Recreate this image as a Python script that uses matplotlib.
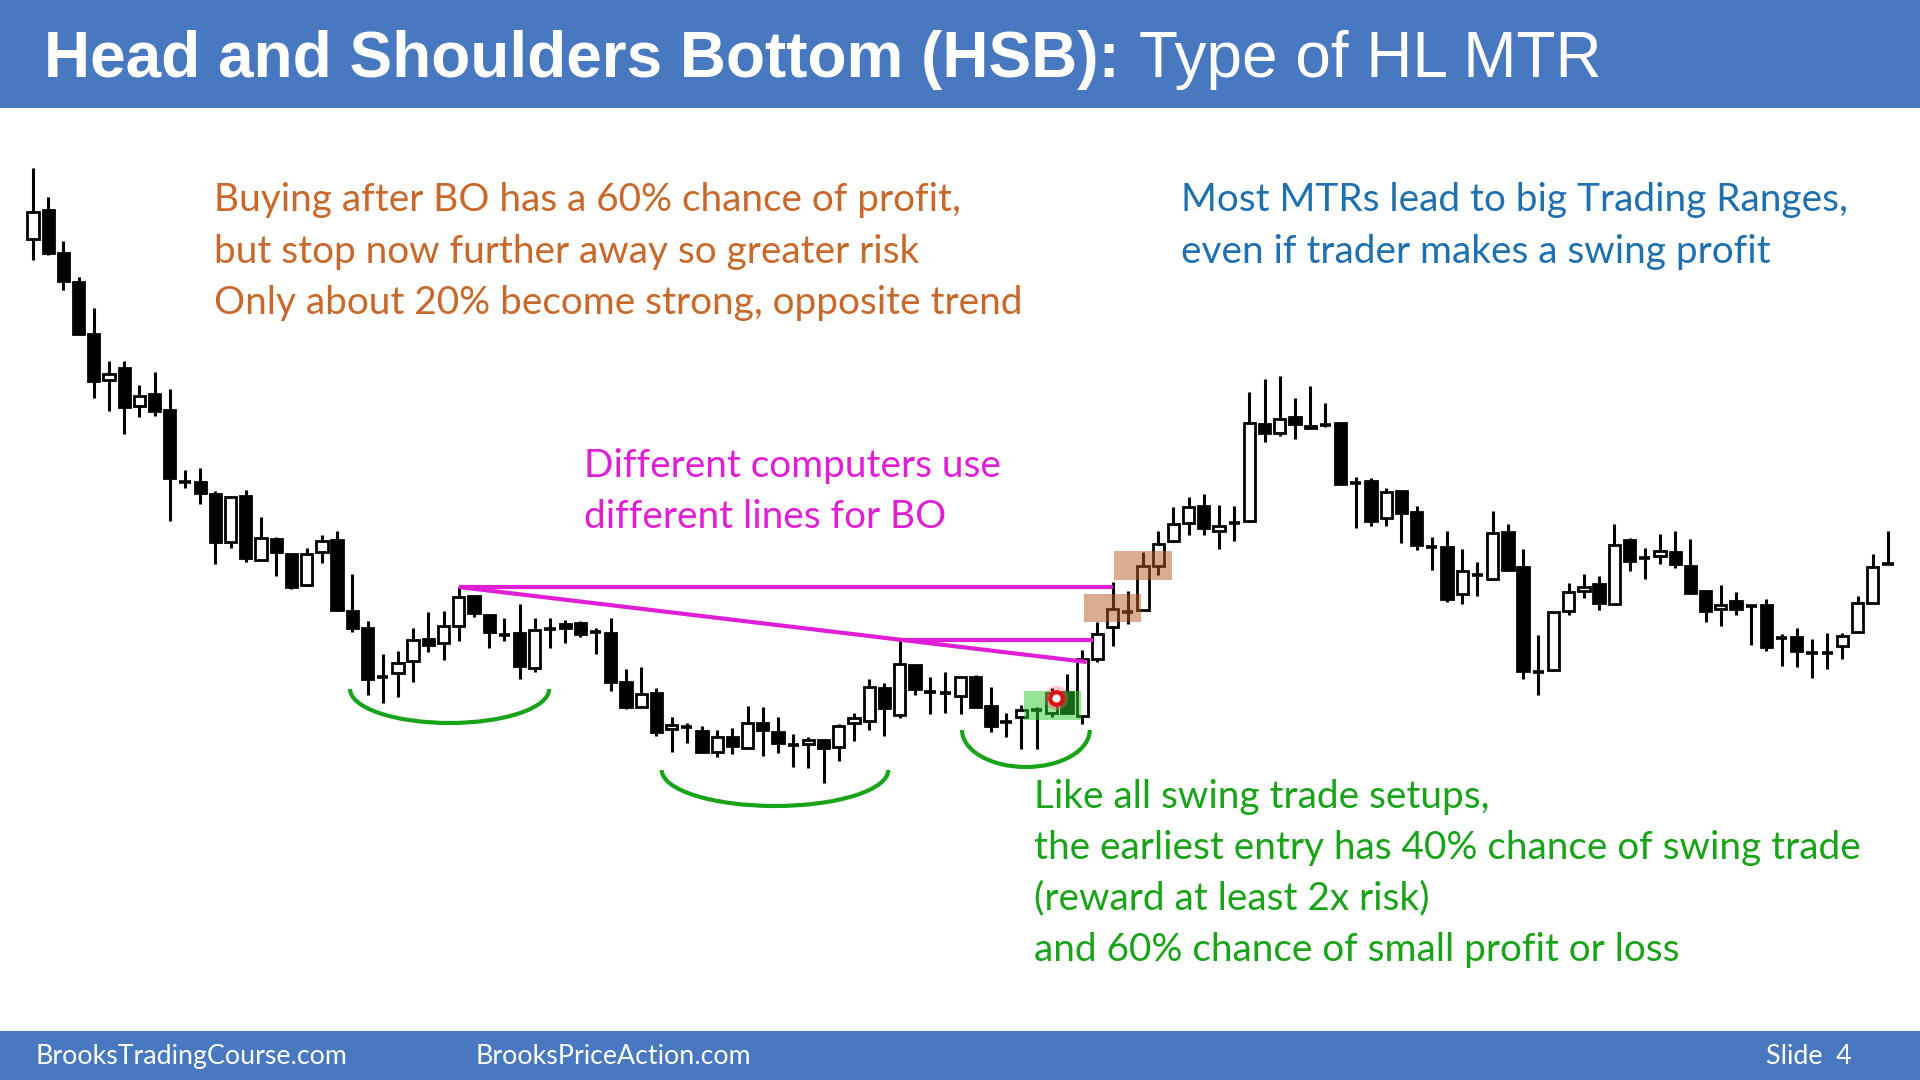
import matplotlib
matplotlib.use("Agg")
import matplotlib.pyplot as plt
from matplotlib.patches import Rectangle, Arc
import numpy as np

# ---------------- data (prices) ----------------
opens = [761, 790, 747, 718, 666, 620, 632, 594, 606, 590,
         518, 518, 506, 458, 504, 440, 461, 446, 415, 448,
         460, 389, 372, 323, 327, 339, 361, 357, 374, 404,
         385, 365, 367, 332, 371, 376, 377, 368, 367, 318,
         293, 307, 271, 273, 269, 248, 263, 252, 277, 268,
         255, 256, 260, 253, 277, 279, 312, 285, 335, 308,
         307, 304, 323, 294, 278, 283, 290, 287, 308, 284,
         341, 373, 388, 390, 434, 459, 477, 494, 469, 477,
         479, 576, 567, 583, 574, 575, 577, 517, 519, 482,
         509, 488, 453, 453, 406, 425, 421, 468, 433, 328,
         330, 389, 409, 416, 396, 460, 442, 444, 448, 434,
         409, 391, 399, 394, 395, 362, 363, 347, 347, 354,
         368, 397, 436]
highs = [832, 803, 759, 723, 692, 639, 639, 615, 628, 611,
         530, 532, 509, 504, 510, 483, 463, 447, 452, 465,
         469, 426, 379, 346, 349, 372, 388, 389, 413, 404,
         386, 382, 396, 382, 382, 380, 379, 372, 382, 331,
         333, 312, 283, 277, 274, 270, 272, 294, 293, 283,
         266, 263, 261, 276, 287, 321, 317, 360, 335, 323,
         328, 324, 325, 313, 287, 295, 293, 312, 326, 350,
         378, 418, 409, 448, 469, 493, 503, 506, 495, 494,
         608, 621, 624, 602, 614, 597, 577, 523, 522, 512,
         509, 494, 463, 469, 451, 438, 489, 476, 451, 365,
         388, 417, 426, 424, 476, 462, 452, 466, 469, 461,
         410, 415, 408, 394, 401, 366, 372, 361, 367, 367,
         404, 446, 469]
lows = [740, 745, 710, 665, 602, 589, 566, 583, 584, 479,
        512, 496, 436, 452, 438, 440, 424, 411, 414, 437,
        389, 368, 305, 297, 303, 318, 348, 340, 359, 383,
        352, 359, 321, 328, 352, 357, 363, 346, 309, 291,
        293, 264, 248, 257, 247, 243, 246, 252, 244, 247,
        233, 232, 217, 239, 259, 270, 264, 282, 305, 286,
        287, 286, 293, 268, 263, 251, 251, 283, 287, 276,
        338, 354, 376, 390, 425, 458, 465, 465, 451, 459,
        478, 558, 564, 561, 572, 573, 516, 472, 474, 474,
        457, 450, 430, 398, 396, 404, 420, 430, 321, 305,
        329, 385, 402, 390, 395, 429, 421, 436, 432, 407,
        378, 374, 385, 355, 349, 334, 333, 322, 331, 341,
        368, 396, 436]
closes = [788, 747, 719, 666, 619, 626, 593, 604, 589, 522,
          518, 507, 458, 503, 442, 462, 448, 413, 446, 459,
          390, 372, 321, 323, 337, 360, 355, 374, 403, 387,
          368, 365, 334, 370, 371, 372, 366, 368, 318, 293,
          306, 268, 275, 273, 248, 263, 254, 277, 270, 257,
          255, 260, 252, 274, 282, 313, 292, 336, 311, 308,
          307, 323, 293, 274, 278, 290, 290, 307, 287, 341,
          366, 391, 388, 434, 456, 476, 493, 472, 474, 477,
          577, 567, 581, 576, 572, 575, 516, 517, 479, 508,
          487, 455, 453, 401, 429, 425, 467, 430, 329, 328,
          388, 408, 413, 397, 455, 439, 442, 449, 436, 407,
          389, 395, 391, 394, 353, 362, 349, 347, 347, 364,
          397, 433, 436]

# breakout lines: (start bar, start price, end bar, end price)
bo_horizontal = (28, 413, 71.0, 413)
bo_sloped = (28, 413, 69.3, 338)
bo_short = (57, 360, 69.7, 360)
# shaded zones: (bar from, bar to, price low, price high)
orange_zones = [(69.1, 72.9, 378, 406), (71.1, 74.9, 420, 449)]
green_zone = (65.2, 68.9, 280, 309)
signal_dot = (67.3, 302)
# shoulder/head arcs: (centre bar, width in bars, top price, depth)
arcs = [(27.4, 13.1, 311, 34), (48.8, 14.9, 230, 36), (65.3, 8.4, 270, 37)]

title_bold = "Head and Shoulders Bottom (HSB):"
title_rest = "Type of HL MTR"
orange_lines = ["Buying after BO has a 60% chance of profit,",
                "but stop now further away so greater risk",
                "Only about 20% become strong, opposite trend"]
blue_lines = ["Most MTRs lead to big Trading Ranges,",
              "even if trader makes a swing profit"]
magenta_lines = ["Different computers use", "different lines for BO"]
green_lines = ["Like all swing trade setups,",
               "the earliest entry has 40% chance of swing trade",
               "(reward at least 2x risk)",
               "and 60% chance of small profit or loss"]
footer_left = "BrooksTradingCourse.com"
footer_mid = "BrooksPriceAction.com"
footer_right = "Slide  4"

# ---------------- figure ----------------
W, H = 1920, 1080
fig = plt.figure(figsize=(W / 100, H / 100), dpi=100)
fig.patch.set_facecolor("white")
ax = fig.add_axes([0, 0, 1, 1])
ax.axis("off")
step = 15.205
ax.set_xlim(-33 / step, (W - 33) / step)
ax.set_ylim(1000 - H, 1000)

BLUE = "#4878C0"
# header / footer bands
fig.patches.append(Rectangle((0, 1 - 108 / H), 1, 108 / H, transform=fig.transFigure,
                             facecolor=BLUE, edgecolor="none", zorder=0))
fig.patches.append(Rectangle((0, 0), 1, (H - 1031) / H, transform=fig.transFigure,
                             facecolor=BLUE, edgecolor="none", zorder=0))

o = np.array(opens, float); hgh = np.array(highs, float)
low = np.array(lows, float); c = np.array(closes, float)
x = np.arange(len(o))
bw = 0.74

ax.vlines(x, low, hgh, color="black", lw=2.2, zorder=2)
doji = o == c
bull = (c > o)
bear = (c < o)
ax.bar(x[bull], (c - o)[bull], bottom=o[bull], width=bw, color="white",
       edgecolor="black", linewidth=2.0, zorder=3)
ax.bar(x[bear], (o - c)[bear], bottom=c[bear], width=bw, color="black",
       edgecolor="black", linewidth=2.0, zorder=3)
ax.hlines(o[doji], x[doji] - bw / 2, x[doji] + bw / 2, color="black", lw=2.6, zorder=3)

MAG = "#E01ED6"
for (x0, y0, x1, y1) in (bo_horizontal, bo_sloped, bo_short):
    ax.plot([x0, x1], [y0, y1], color=MAG, lw=3.0, solid_capstyle="butt", zorder=4)

for (a, b, lo_, hi_) in orange_zones:
    ax.add_patch(Rectangle((a, lo_), b - a, hi_ - lo_, facecolor="#B85A20",
                           alpha=0.5, edgecolor="none", zorder=5))
a, b, lo_, hi_ = green_zone
ax.add_patch(Rectangle((a, lo_), b - a, hi_ - lo_, facecolor="#2ECC2E",
                       alpha=0.5, edgecolor="none", zorder=5))
ax.scatter([signal_dot[0]], [signal_dot[1]], s=300, color="#FF6060", alpha=0.35,
           edgecolors="none", zorder=6)
ax.scatter([signal_dot[0]], [signal_dot[1]], s=80, facecolor="white",
           edgecolors="#E01010", linewidths=3, zorder=7)

GREEN = "#18A318"
for (cx, w, top, d) in arcs:
    ax.add_patch(Arc((cx, top), w, 2 * d, theta1=180, theta2=360,
                     color=GREEN, lw=3.0, zorder=4))

# ---------------- text ----------------
fig.canvas.draw()
rend = fig.canvas.get_renderer()


def ftext(px, py, s, **kw):
    return fig.text(px / W, 1 - py / H, s, **kw)


def fit(t, width):
    wcur = t.get_window_extent(rend).width
    t.set_fontsize(t.get_fontsize() * width / wcur)
    return t.get_fontsize()


# title
t1 = ftext(44, 77, title_bold, color="white", fontweight="bold",
           family="Liberation Sans", fontsize=40, va="baseline")
fs_title = fit(t1, 1074)
t2 = ftext(1139, 77, title_rest, color="white", family="Liberation Sans",
           fontsize=fs_title, va="baseline")

BODY_FONT = "Lato"
probe = ftext(214, 211, orange_lines[0], family=BODY_FONT, fontsize=24,
              va="baseline", color="#C8682A")
fs_body = fit(probe, 747)
probe.remove()

ORANGE = "#C8682A"
for s, yb in zip(orange_lines, [211, 263, 314]):
    ftext(214, yb, s, family=BODY_FONT, fontsize=fs_body, color=ORANGE, va="baseline")
for s, yb in zip(blue_lines, [211, 263]):
    ftext(1181, yb, s, family=BODY_FONT, fontsize=fs_body, color="#1F70B0", va="baseline")
for s, yb in zip(magenta_lines, [477, 528]):
    ftext(584, yb, s, family=BODY_FONT, fontsize=fs_body, color=MAG, va="baseline")
for s, yb in zip(green_lines, [808, 859, 909, 961]):
    ftext(1034, yb, s, family=BODY_FONT, fontsize=fs_body, color=GREEN, va="baseline")

f1 = ftext(36, 1064, footer_left, family=BODY_FONT, fontsize=18, color="white", va="baseline")
fs_foot = fit(f1, 311)
ftext(475, 1064, footer_mid, family=BODY_FONT, fontsize=fs_foot, color="white", va="baseline")
ftext(1766, 1064, footer_right, family=BODY_FONT, fontsize=fs_foot, color="white", va="baseline")

fig.savefig("out.png", dpi=100, facecolor="white")
